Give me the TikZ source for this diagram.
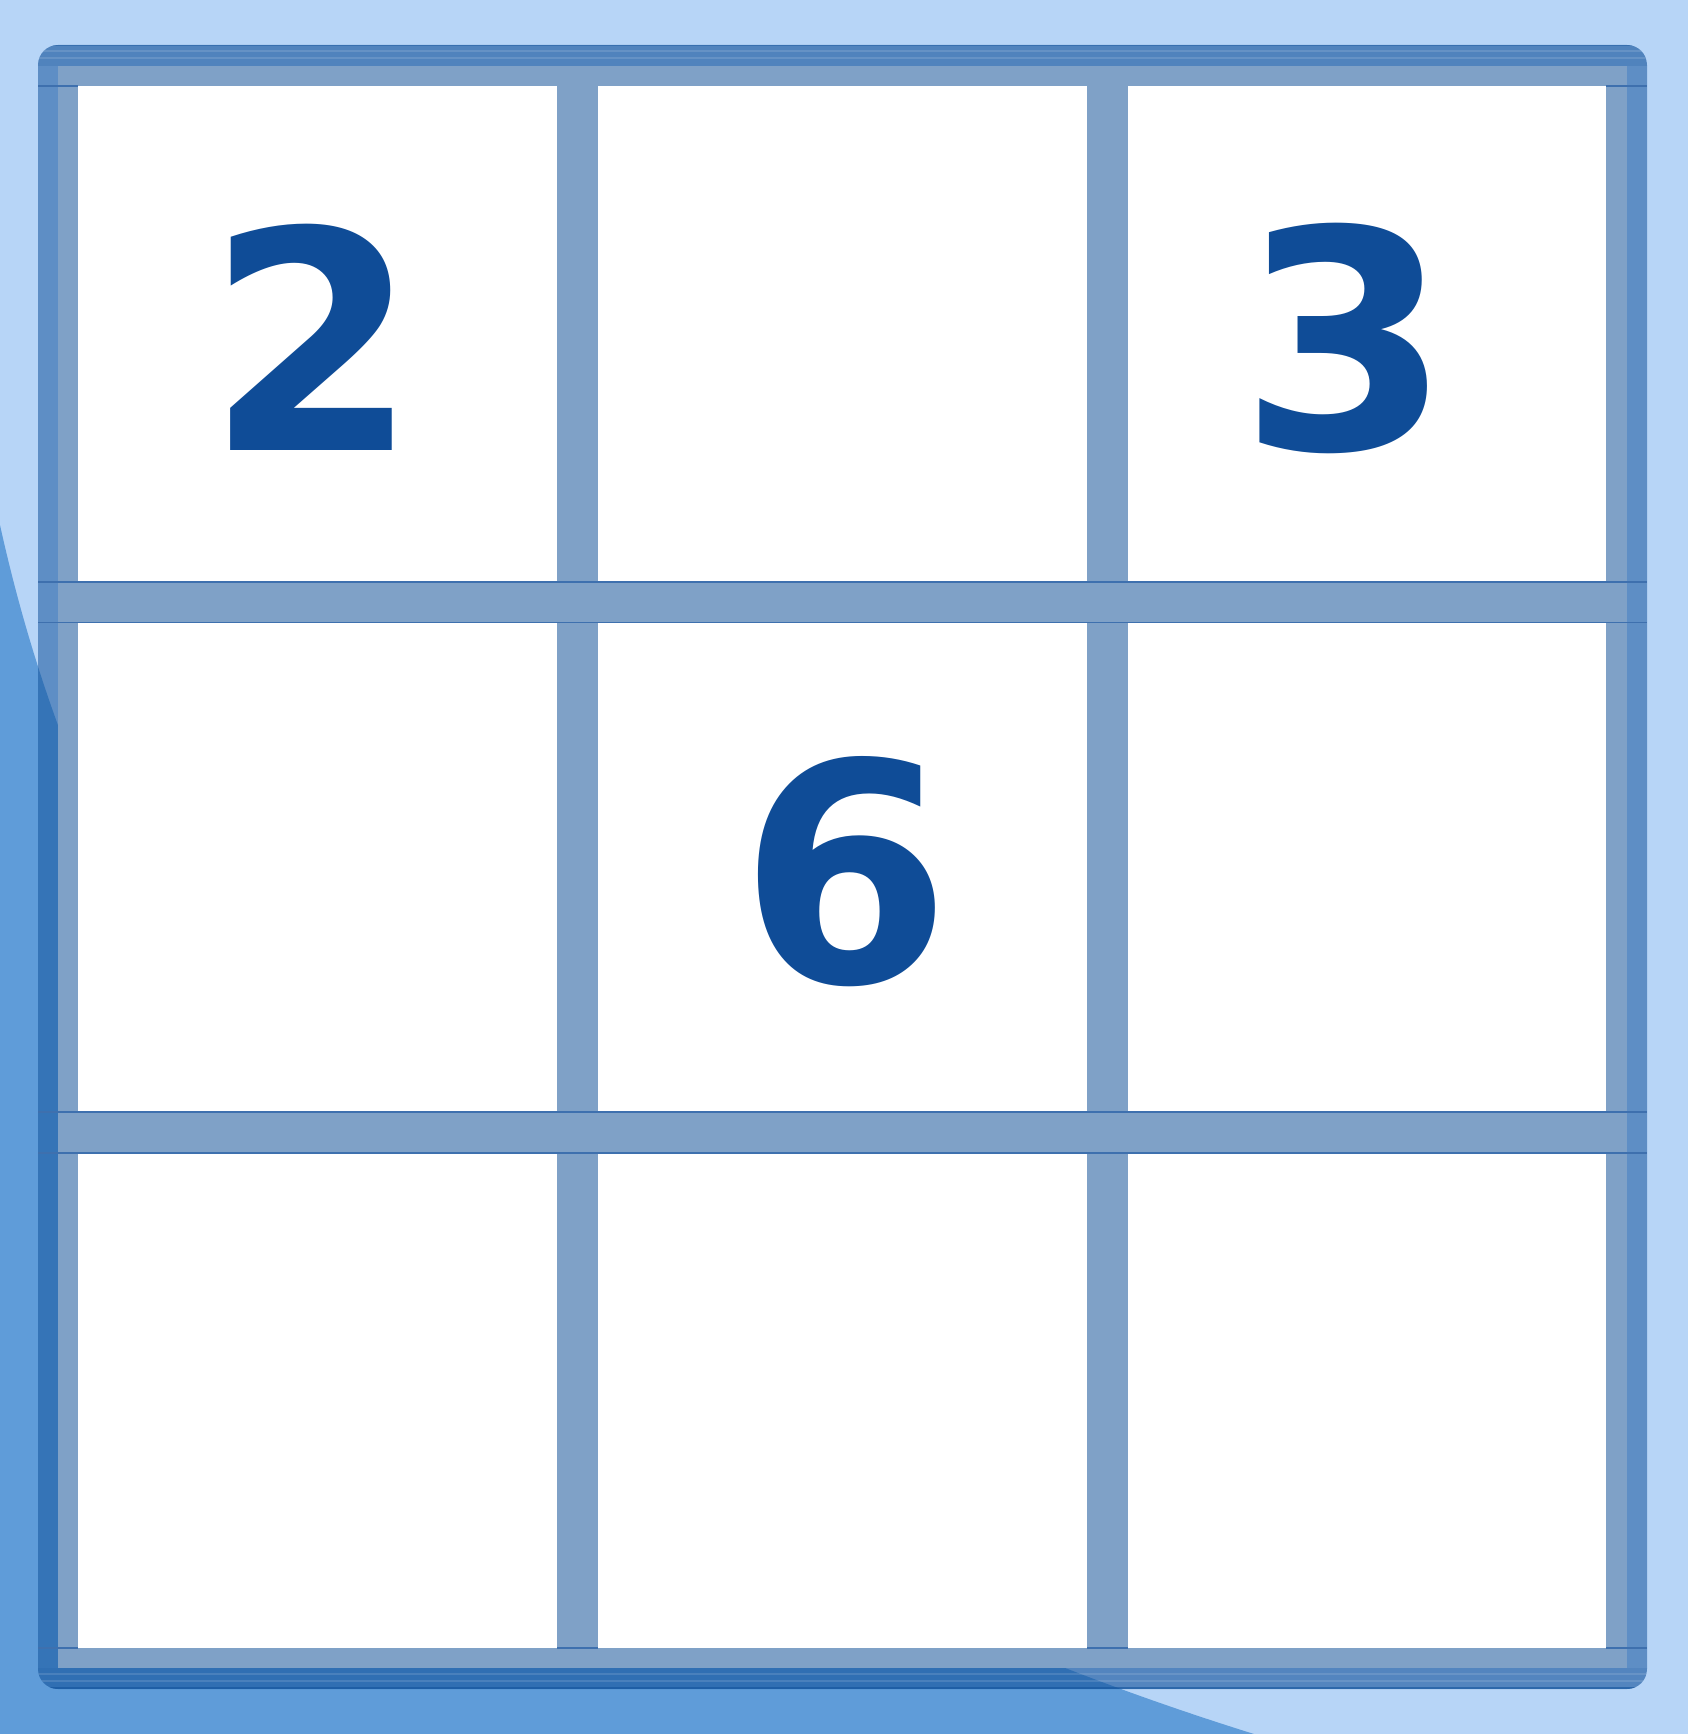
\documentclass[tikz,border=0pt]{standalone}
\usepackage{fontspec}
\newfontfamily\digitfont{DejaVu Sans}
\definecolor{bglight}{HTML}{B7D5F7}
\definecolor{bgdark}{HTML}{5F9CD9}
\definecolor{framec}{HTML}{13539C}
\definecolor{gridc}{HTML}{7FA1C7}
\definecolor{digitc}{HTML}{0F4C97}
\definecolor{linec}{HTML}{3E70AE}
\tikzset{
  cellbox/.style={fill=white},
  edgeline/.style={draw=linec, line width=1.6pt},
  stripe/.style={draw=white, draw opacity=0.12, line width=2pt},
  digit/.style={font={\digitfont\bfseries\fontsize{305pt}{305pt}\selectfont}, text=digitc, inner sep=0pt, anchor=center}
}
\begin{document}
\begin{tikzpicture}[x=1pt,y=-1pt]
\useasboundingbox (0,0) rectangle (1688,1734);
% background
\fill[bglight] (0,0) rectangle (1688,1734);
\fill[bgdark] (0,525) .. controls (129,1110) and (547,1513) .. (1254,1734) -- (0,1734) -- cycle;
% frame
\fill[framec, fill opacity=0.54, rounded corners=20pt] (38,45) rectangle (1647,1689);
\begin{scope}
  \clip[rounded corners=20pt] (38,45) rectangle (1647,1689);
  \fill[framec, fill opacity=0.18] (38,45) rectangle (1647,66);
  \fill[framec, fill opacity=0.14] (38,1668) rectangle (1647,1689);
  \draw[stripe] (38,51.5) -- (1647,51.5);
  \draw[stripe] (38,58.5) -- (1647,58.5);
  \draw[stripe] (38,1674) -- (1647,1674);
  \draw[stripe] (38,1681) -- (1647,1681);
  \draw[framec, line width=1.5pt, draw opacity=0.6] (38,1688) -- (1647,1688);
  \draw[framec, line width=1.2pt, draw opacity=0.4] (38,45.8) -- (1647,45.8);
\end{scope}
% inner band / grid colour
\fill[gridc] (58,66) rectangle (1627,1668);
% cells
\fill[cellbox] (78,86) rectangle (557,582);
\fill[cellbox] (598,86) rectangle (1087,582);
\fill[cellbox] (1128,86) rectangle (1606,582);
\fill[cellbox] (78,622) rectangle (557,1112);
\fill[cellbox] (598,622) rectangle (1087,1112);
\fill[cellbox] (1128,622) rectangle (1606,1112);
\fill[cellbox] (78,1153) rectangle (557,1648);
\fill[cellbox] (598,1153) rectangle (1087,1648);
\fill[cellbox] (1128,1153) rectangle (1606,1648);
% thin edge lines
\draw[edgeline] (38,582) -- (1647,582);
\draw[edgeline] (38,622.5) -- (1647,622.5);
\draw[edgeline] (38,1112) -- (1647,1112);
\draw[edgeline] (38,1153) -- (1647,1153);
\draw[edgeline] (38,86) -- (78,86);
\draw[edgeline] (1606,86) -- (1647,86);
\draw[edgeline] (38,1648) -- (78,1648);
\draw[edgeline] (557,1648) -- (598,1648);
\draw[edgeline] (1087,1648) -- (1128,1648);
\draw[edgeline] (1606,1648) -- (1647,1648);
% digits
\node[digit] (d2) at (313,337) {2};
\node[digit] (d3) at (1346,338) {3};
\node[digit] (d6) at (846,872) {6};
\end{tikzpicture}
\end{document}
